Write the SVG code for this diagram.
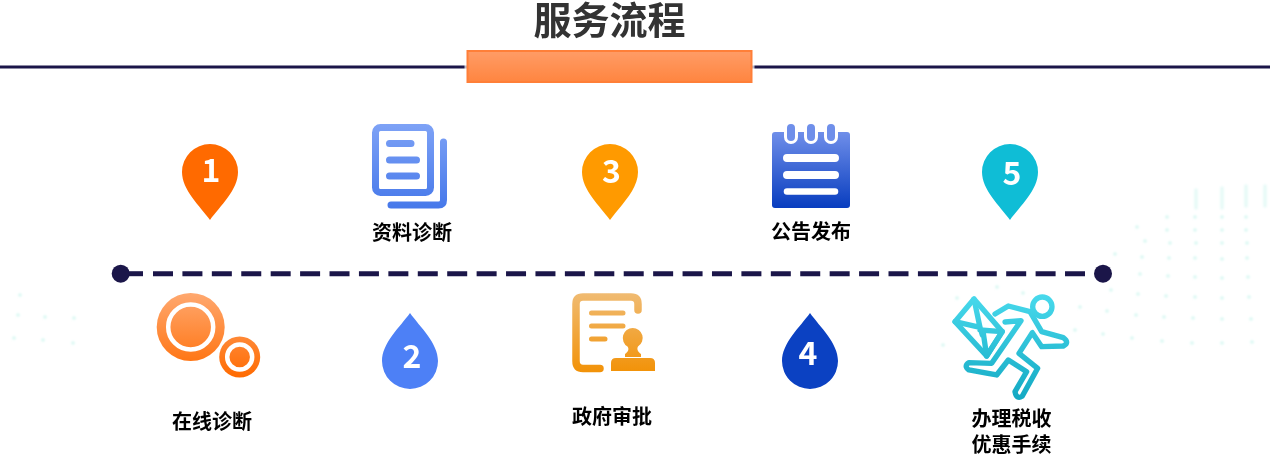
<svg xmlns="http://www.w3.org/2000/svg" width="1270" height="460" viewBox="0 0 1270 460">
<style>
.lb{font-family:"Noto Sans CJK SC","Liberation Sans",sans-serif;font-size:20px;font-weight:700;fill:#000;text-anchor:middle}
.num{font-family:"Noto Sans CJK SC","Noto Sans",sans-serif;font-size:32px;font-weight:700;fill:#fff;text-anchor:middle}
.ln{fill:none;stroke-linecap:round;stroke-linejoin:round}
.dot{fill:none;stroke:#d6f7f1;stroke-width:3.500;stroke-linecap:round}
</style>
<defs>
<path id="pin" d="M0 48C-10 34-28 18-28 0A28 28 0 0 1 28 0C28 18 10 34 0 48Z"/>
<path id="drop" d="M0-48C10-34 28-18 28 0A28 28 0 0 1-28 0C-28-18-10-34 0-48Z"/>
<linearGradient id="gBar" x1="0" y1="0" x2="0" y2="1"><stop offset="0" stop-color="#ff9c66"/><stop offset="1" stop-color="#ff8540"/></linearGradient>
<linearGradient id="gDoc" gradientUnits="userSpaceOnUse" x1="0" y1="124" x2="0" y2="208"><stop offset="0" stop-color="#7ea2f6"/><stop offset="1" stop-color="#4678ea"/></linearGradient>
<linearGradient id="gCal" gradientUnits="userSpaceOnUse" x1="0" y1="124" x2="0" y2="208"><stop offset="0" stop-color="#7a97ee"/><stop offset="1" stop-color="#083dbf"/></linearGradient>
<linearGradient id="gCirc" gradientUnits="userSpaceOnUse" x1="0" y1="293" x2="0" y2="378"><stop offset="0" stop-color="#ffa86f"/><stop offset="1" stop-color="#ff6a00"/></linearGradient>
<linearGradient id="gApp" gradientUnits="userSpaceOnUse" x1="0" y1="293" x2="0" y2="372"><stop offset="0" stop-color="#f0bb72"/><stop offset="1" stop-color="#f29208"/></linearGradient>
<linearGradient id="gRun" gradientUnits="userSpaceOnUse" x1="0" y1="15" x2="0" y2="335"><stop offset="0" stop-color="#48d9ec"/><stop offset="1" stop-color="#12a8c2"/></linearGradient>
<filter id="soft" x="-5%" y="-5%" width="110%" height="110%"><feGaussianBlur stdDeviation="1"/></filter>
</defs>
<rect width="1270" height="460" fill="#fff"/>
<g id="background" class="dot" filter="url(#soft)">
<path opacity=".6" d="M1196 190v18M1222 188v20M1246 186v20M1265 186v20"/>
<path d="M1195 217h0M1222 217h0M1246 217h0M1137 227h0M1167 217h0"/>
<path d="M1167 230h0M1195 230h0M1222 230h0M1246 230h0M1145 241h0M1170 243h0M1196 243h0M1222 243h0M1247 243h0"/>
<path d="M1115 254h0M1142 257h0M1169 258h0M1195 258h0M1222 259h0M1247 258h0M1140 274h0M1168 276h0M1195 277h0M1222 278h0M1248 277h0"/>
<path d="M1111 290h0M1138 294h0M1166 296h0M1195 297h0M1222 298h0M1249 297h0M1107 311h0M1136 315h0M1164 317h0M1193 318h0M1222 319h0M1251 319h0M1103 334h0M1132 338h0M1162 341h0M1192 343h0M1222 343h0M1252 342h0"/>
<path d="M18 315h0M45 317h0M74 318h0M14 338h0M43 340h0M73 343h0M20 295h0M997 287h0M1023 293h0M1080 307h0M1075 330h0M943 345h0M957 298h0"/>
</g>
<g id="title">
<rect x="0" y="65.500" width="1270" height="3" fill="#1b1649"/>
<rect x="464.500" y="48" width="290" height="37" fill="#fff" opacity=".7"/>
<rect x="467.500" y="51" width="284" height="31" fill="url(#gBar)" stroke="#ff7f38" stroke-width="2"/>
<text x="609.500" y="34" font-family="'Noto Sans CJK SC','Liberation Sans',sans-serif" font-size="38" font-weight="700" fill="#333" text-anchor="middle">服务流程</text>
</g>
<g id="connectors">
<line x1="120" y1="273.700" x2="143" y2="273.700" stroke="#1b1649" stroke-width="5"/>
<line x1="153" y1="273.700" x2="1085" y2="273.700" stroke="#1b1649" stroke-width="5" stroke-dasharray="20 9.420"/>
<circle cx="120.700" cy="273.700" r="9" fill="#1b1649"/>
<circle cx="1103" cy="273.700" r="9" fill="#1b1649"/>
</g>
<g id="step1"><use href="#pin" x="210" y="172" fill="#ff6a00"/><text class="num" x="211" y="182">1</text></g>
<g id="step2"><use href="#drop" x="410" y="361" fill="#4d80f6"/><text class="num" x="412" y="368">2</text></g>
<g id="step3"><use href="#pin" x="610" y="172" fill="#ff9a00"/><text class="num" x="611.500" y="183">3</text></g>
<g id="step4"><use href="#drop" x="810" y="361" fill="#0b41c2"/><text class="num" x="808" y="365">4</text></g>
<g id="step5"><use href="#pin" x="1010" y="172" fill="#0fbdd6"/><text class="num" x="1012" y="185">5</text></g>
<g id="node-docs">
<g class="ln" stroke="url(#gDoc)">
<rect x="375.500" y="127.500" width="55" height="65" rx="5" stroke-width="7"/>
<path d="M443.500 142V200Q443.500 205 438.500 205H391" stroke-width="7"/>
<path d="M389.500 143.500H411M389.500 160H416.500M389.500 176H416.500" stroke-width="7"/>
</g>
<text class="lb" x="412" y="240">资料诊断</text>
</g>
<g id="node-notice">
<rect x="772" y="132" width="78" height="76" rx="3" fill="url(#gCal)"/>
<g class="ln">
<path d="M791 128V137M811 128V137M831 128V137" stroke="#fff" stroke-width="14"/>
<path d="M791 128V137M811 128V137M831 128V137" stroke="#6f8fea" stroke-width="8"/>
<path d="M787 158H835M787 175H835" stroke="#fff" stroke-width="8"/>
<path d="M787 191.500H835" stroke="#fff" stroke-width="6.500"/>
</g>
<text class="lb" x="811" y="239">公告发布</text>
</g>
<g id="node-online">
<circle cx="190.700" cy="327" r="34" fill="url(#gCirc)"/>
<circle cx="190.700" cy="327" r="22.500" fill="none" stroke="#fff" stroke-width="4.500"/>
<circle cx="239.700" cy="357" r="20.500" fill="url(#gCirc)"/>
<circle cx="239.700" cy="357" r="12.500" fill="none" stroke="#fff" stroke-width="4.500"/>
<text class="lb" x="212" y="429">在线诊断</text>
</g>
<g id="node-approve">
<g class="ln" stroke="url(#gApp)">
<path d="M638 310V304Q638 297 631 297H583Q576 297 576 304V361Q576 368.500 583 368.500H600" stroke-width="7.500"/>
<path d="M591.500 313H623M591.500 326H623M591.500 339H605" stroke-width="5"/>
</g>
<path d="M632.700 328A10 10 0 0 1 638 346.500C636.500 349 638 352 641 354V357H625V354C628 352 629.500 349 627.500 346.500A10 10 0 0 1 632.700 328Z" fill="url(#gApp)"/>
<path d="M611 371V363Q611 358 616 358H650Q655 358 655 363V371Z" fill="url(#gApp)"/>
<text class="lb" x="612" y="424">政府审批</text>
</g>
<g id="node-tax">
<g transform="translate(945 290) scale(.3333)">
<g class="ln" stroke="url(#gRun)" stroke-width="16">
<circle cx="292" cy="50" r="29"/>
<path d="M30 95L87 27L172 125L125 198Z"/>
<path d="M30 95L105 112M87 27L105 112L112 135M105 120L172 125M125 198L115 130M125 198L168 130"/>
<path d="M150 72L190 48L255 65L290 125L355 143Q375 158 355 168L290 170L262 128L222 190L278 235L232 318Q215 330 210 305L245 245L190 210L155 255L72 240Q55 228 72 218L140 220L228 92L180 96"/>
</g>
</g>
<text class="lb" x="1011.500" y="426">办理税收<tspan x="1011.500" dy="26">优惠手续</tspan></text>
</g>
</svg>
